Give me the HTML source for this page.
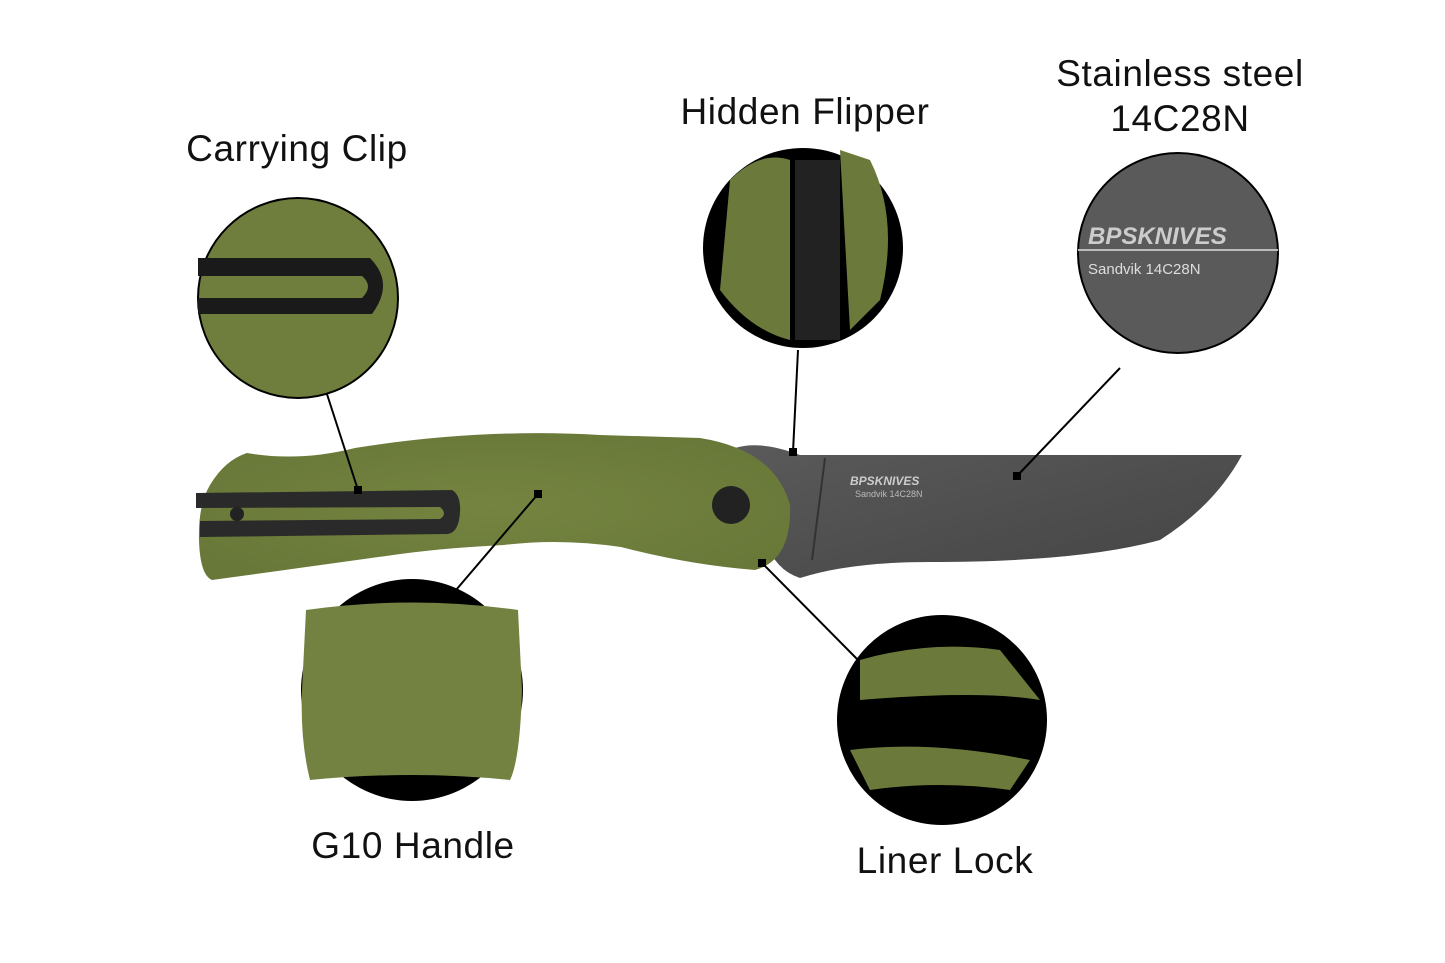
<!DOCTYPE html>
<html><head><meta charset="utf-8"><style>
html,body{margin:0;padding:0;background:#fff;}
svg{display:block}
text{font-family:"Liberation Sans",sans-serif;fill:#111;}
</style></head><body>
<svg width="1445" height="963" viewBox="0 0 1445 963" xmlns="http://www.w3.org/2000/svg">
<defs>
<radialGradient id="g1" cx="50%" cy="50%" r="60%"><stop offset="0" stop-color="#758440"/><stop offset="1" stop-color="#687838"/></radialGradient>
<linearGradient id="bl" x1="0" y1="0" x2="1" y2="1"><stop offset="0" stop-color="#5a5a5a"/><stop offset="1" stop-color="#444"/></linearGradient>
</defs>
<g font-size="37" letter-spacing="0.6">
<text x="297" y="161" text-anchor="middle">Carrying Clip</text>
<text x="805" y="124" text-anchor="middle">Hidden Flipper</text>
<text x="1180" y="86" text-anchor="middle">Stainless steel</text>
<text x="1180" y="131" text-anchor="middle">14C28N</text>
<text x="413" y="858" text-anchor="middle">G10 Handle</text>
<text x="945" y="873" text-anchor="middle">Liner Lock</text>
</g>
<!-- blade -->
<path d="M735,448 Q760,440 800,455 L1242,455 Q1215,505 1160,540 Q1080,562 930,562 Q850,562 800,578 Q775,570 765,540 Z" fill="url(#bl)"/>
<line x1="825" y1="458" x2="812" y2="560" stroke="#333" stroke-width="2"/>
<text x="850" y="485" font-size="12" font-weight="bold" font-style="italic" style="fill:#ccc">BPSKNIVES</text>
<text x="855" y="497" font-size="9" style="fill:#bbb">Sandvik  14C28N</text>
<!-- handle -->
<path d="M247,453 Q300,462 355,448 Q480,428 600,435 L700,438 Q775,450 790,505 Q792,560 755,570 Q690,565 621,547 Q560,538 504,545 Q440,548 386,556 Q300,568 212,580 Q200,575 199,540 Q198,505 210,485 Q225,460 247,453 Z" fill="url(#g1)"/>
<!-- clip -->
<path d="M196,493 L452,490 Q461,495 460,512 Q459,532 448,534 L200,537 L200,521 L440,519 Q448,514 440,507 L196,508 Z" fill="#2a2a2a"/>
<circle cx="237" cy="514" r="7" fill="#222"/>
<circle cx="731" cy="505" r="19" fill="#222"/>
<!-- connectors -->
<g stroke="#000" stroke-width="2">
<line x1="325" y1="388" x2="358" y2="490"/>
<line x1="798" y1="350" x2="793" y2="452"/>
<line x1="1120" y1="368" x2="1017" y2="476"/>
<line x1="538" y1="494" x2="456" y2="590"/>
<line x1="762" y1="563" x2="858" y2="660"/>
</g>
<g fill="#000"><rect x="354" y="486" width="8" height="8"/><rect x="789" y="448" width="8" height="8"/><rect x="1013" y="472" width="8" height="8"/><rect x="534" y="490" width="8" height="8"/><rect x="758" y="559" width="8" height="8"/></g>
<!-- detail circles -->
<circle cx="298" cy="298" r="100" fill="#6f7e3c" stroke="#000" stroke-width="2"/>
<path d="M198,258 L370,258 Q395,283 372,314 L198,314 L198,298 L362,298 Q374,286 362,276 L198,276 Z" fill="#1a1a1a"/>
<circle cx="803" cy="248" r="100" fill="#000"/>
<path d="M730,180 Q760,150 790,160 L790,340 Q750,330 720,290 Z" fill="#6b7a3a"/>
<path d="M840,150 L870,160 Q900,220 880,300 L850,330 Z" fill="#6b7a3a"/>
<rect x="795" y="160" width="45" height="180" fill="#222"/>
<circle cx="1178" cy="253" r="100" fill="#5a5a5a" stroke="#000" stroke-width="2"/>
<text x="1088" y="244" font-size="24" font-weight="bold" font-style="italic" style="fill:#ccc">BPSKNIVES</text>
<line x1="1078" y1="250" x2="1278" y2="250" stroke="#bbb" stroke-width="2"/>
<text x="1088" y="274" font-size="15" style="fill:#ddd">Sandvik   14C28N</text>
<circle cx="412" cy="690" r="111" fill="#000"/>
<path d="M306,610 Q412,595 518,610 L522,690 Q520,760 510,780 Q412,770 310,780 Q300,740 302,690 Z" fill="#738240"/>
<circle cx="942" cy="720" r="105" fill="#000"/>
<path d="M860,660 Q930,640 1000,650 L1040,700 Q980,690 860,700 Z" fill="#6b7a3a"/>
<path d="M850,750 Q930,740 1030,760 L1010,790 Q940,780 870,790 Z" fill="#6b7a3a"/>
</svg>
</body></html>
